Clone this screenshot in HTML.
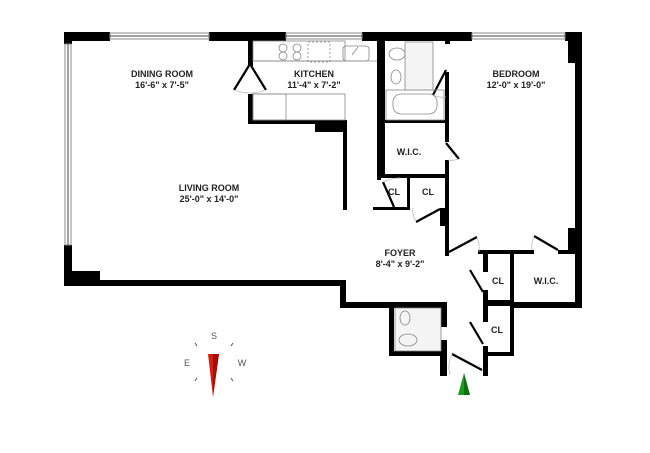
<!DOCTYPE html>
<html><head><style>
html,body{margin:0;padding:0;background:#fff;}
svg{display:block}
text{font-family:"Liberation Sans",sans-serif;font-weight:bold;fill:#222;}
</style></head><body>
<svg width="650" height="453" viewBox="0 0 650 453" xmlns="http://www.w3.org/2000/svg">
<rect width="650" height="453" fill="#fff"/>
<g fill="#000">
<rect x="64" y="32" width="46" height="9"/>
<rect x="209" y="32" width="77" height="9"/>
<rect x="362" y="32" width="110" height="9"/>
<rect x="565" y="32" width="17" height="9"/>
<rect x="64" y="32" width="8" height="12"/>
<rect x="64" y="245" width="8" height="41"/>
<rect x="64" y="271" width="36" height="15"/>
<rect x="64" y="280" width="282" height="6"/>
<rect x="340" y="280" width="6" height="28"/>
<rect x="340" y="302" width="107" height="6"/>
<rect x="389" y="302" width="5" height="53"/>
<rect x="389" y="351" width="56" height="5"/>
<rect x="440" y="302" width="7" height="25"/>
<rect x="440" y="340" width="7" height="36"/>
<rect x="483" y="252" width="5" height="20"/>
<rect x="483" y="290" width="5" height="32"/>
<rect x="483" y="300" width="30" height="6"/>
<rect x="483" y="346" width="5" height="30"/>
<rect x="510" y="252" width="4" height="56"/>
<rect x="510" y="302" width="72" height="6"/>
<rect x="510" y="302" width="4" height="54"/>
<rect x="483" y="352" width="31" height="4"/>
<rect x="575" y="32" width="7" height="276"/>
<rect x="568" y="32" width="14" height="31"/>
<rect x="568" y="228" width="14" height="24"/>
<rect x="478" y="250" width="56" height="4"/>
<rect x="558" y="250" width="24" height="4"/>
<rect x="445" y="32" width="5" height="12"/>
<rect x="445" y="72" width="4" height="70"/>
<rect x="445" y="160" width="4" height="96"/>
<rect x="440" y="208" width="9" height="18"/>
<rect x="377" y="32" width="8" height="145"/>
<rect x="377" y="120" width="70" height="3"/>
<rect x="377" y="174" width="70" height="4"/>
<rect x="377" y="174" width="4" height="6"/>
<rect x="407" y="176" width="3" height="34"/>
<rect x="373" y="207" width="37" height="3"/>
<rect x="248" y="38" width="5" height="28"/>
<rect x="248" y="94" width="5" height="30"/>
<rect x="248" y="120" width="99" height="4"/>
<rect x="315" y="120" width="32" height="12"/>
<rect x="343" y="120" width="4" height="90"/>
</g>
<g stroke="#888" stroke-width="1" fill="none">
<rect x="110" y="33" width="99" height="6"/>
<rect x="286" y="33" width="76" height="6"/>
<rect x="472" y="33" width="93" height="6"/>
<rect x="65" y="44" width="6" height="201"/>
</g>
<g stroke="#444" stroke-width="1">
<line x1="110" y1="36" x2="209" y2="36"/><line x1="286" y1="36" x2="362" y2="36"/><line x1="472" y1="36" x2="565" y2="36"/><line x1="68" y1="44" x2="68" y2="245"/>
</g>
<g stroke="#000" stroke-width="2.2" fill="none">
<line x1="250" y1="64" x2="234" y2="90"/>
<line x1="250" y1="64" x2="266" y2="90"/>
<line x1="383" y1="182" x2="394" y2="207"/>
<line x1="440" y1="209" x2="416" y2="222"/>
<line x1="449" y1="252" x2="477" y2="237"/>
<line x1="534" y1="236" x2="558" y2="250"/>
<line x1="446" y1="70" x2="433" y2="95"/>
<line x1="446" y1="143" x2="459" y2="159"/>
<line x1="470" y1="270" x2="483" y2="292"/>
<line x1="470" y1="322" x2="483" y2="344"/>
<line x1="441" y1="306" x2="430" y2="326"/>
<line x1="452" y1="354" x2="482" y2="370"/>
</g>
<g stroke="#bbb" stroke-width="0.8" fill="none">
<path d="M234 90 Q250 96 266 90"/>
<path d="M383 182 Q392 178 400 178"/>
<path d="M416 222 Q412 215 413 208"/>
<path d="M477 237 Q480 245 479 252"/>
<path d="M534 236 Q531 243 532 250"/>
<path d="M433 95 Q440 98 446 97"/>
<path d="M459 159 Q452 161 448 160"/>
<path d="M452 354 Q447 365 450 375"/>
</g>
<g stroke="#888" stroke-width="0.8" fill="none">
<rect x="253" y="41" width="92" height="20" fill="none"/>
<line x1="253" y1="61" x2="377" y2="61"/>
<rect x="253" y="94" width="92" height="26"/>
<rect x="253" y="94" width="33" height="26"/>
<rect x="308" y="42" width="22" height="20" stroke-dasharray="2,2"/>
<rect x="343" y="46" width="26" height="15" rx="3"/>
<line x1="352" y1="55" x2="358" y2="47"/>
<circle cx="283" cy="48" r="4"/><circle cx="283" cy="56" r="4"/><circle cx="297" cy="48" r="4"/><circle cx="297" cy="56" r="4"/>
<rect x="386" y="90" width="58" height="30"/>
<rect x="393" y="94" width="44" height="20" rx="8"/>
<ellipse cx="397" cy="54" rx="8" ry="6"/>
<ellipse cx="396" cy="77" rx="5" ry="7"/>
<rect x="405" y="42" width="28" height="48" fill="#f4f4f4"/>
<rect x="395" y="308" width="46" height="43" fill="#f4f4f4"/>
<ellipse cx="405" cy="318" rx="5" ry="7"/>
<ellipse cx="408" cy="340" rx="9" ry="6"/>
</g>
<g font-size="9" text-anchor="middle">
<text x="162" y="77">DINING ROOM</text>
<text x="162" y="88">16'-6" x 7'-5"</text>
<text x="314" y="77">KITCHEN</text>
<text x="314" y="88">11'-4" x 7'-2"</text>
<text x="209" y="191">LIVING ROOM</text>
<text x="209" y="202">25'-0" x 14'-0"</text>
<text x="516" y="77">BEDROOM</text>
<text x="516" y="88">12'-0" x 19'-0"</text>
<text x="409" y="155">W.I.C.</text>
<text x="394" y="195">CL</text>
<text x="428" y="195">CL</text>
<text x="400" y="256">FOYER</text>
<text x="400" y="267">8'-4" x 9'-2"</text>
<text x="498" y="284">CL</text>
<text x="546" y="284">W.I.C.</text>
<text x="497" y="333">CL</text>
</g>
<g font-size="9" text-anchor="middle">
<text x="214" y="339" style="fill:#555;font-weight:normal">S</text>
<text x="187" y="366" style="fill:#555;font-weight:normal">E</text>
<text x="242" y="366" style="fill:#555;font-weight:normal">W</text>
</g>
<g stroke="#555" stroke-width="1">
<line x1="195" y1="343" x2="197" y2="346"/><line x1="233" y1="343" x2="231" y2="346"/>
<line x1="195" y1="381" x2="197" y2="378"/><line x1="233" y1="381" x2="231" y2="378"/>
</g>
<polygon points="208,354 219,354 213,397" fill="#d42010"/>
<polygon points="213,354 219,354 213,397" fill="#a01008"/>
<polygon points="464,373 458,395 470,395" fill="#1a9a20"/>
<polygon points="464,373 464,395 470,395" fill="#0d6e12"/>
</svg>
</body></html>
